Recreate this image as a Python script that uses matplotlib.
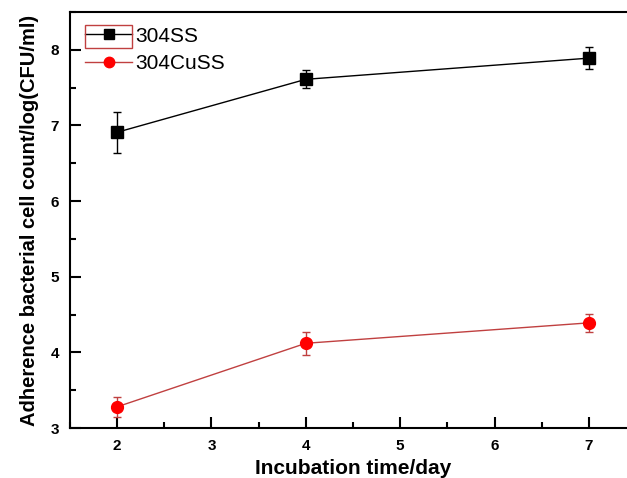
import matplotlib.pyplot as plt
from matplotlib.lines import Line2D
from matplotlib.patches import Rectangle
from matplotlib.ticker import MultipleLocator

days = [2, 4, 7]
ss = [6.91, 7.61, 7.89]
ss_err = [0.27, 0.12, 0.15]
cuss = [3.28, 4.12, 4.39]
cuss_err = [0.13, 0.15, 0.12]

plt.rcParams['font.family'] = ['Liberation Sans', 'DejaVu Sans']

fig = plt.figure(figsize=(6.27, 4.78), dpi=100)
ax = fig.add_axes([0.1116, 0.1046, 0.9028, 0.8703])

ax.errorbar(days, ss, yerr=ss_err, color='black', lw=1, marker='s', ms=8,
            capsize=3, elinewidth=1, capthick=1)
ax.errorbar(days, cuss, yerr=cuss_err, color='#c04040', lw=1, marker='o', ms=8.5,
            mfc='red', mec='red', capsize=3, elinewidth=1, capthick=1)

ax.set_xlim(1.5, 7.5)
ax.set_ylim(3, 8.5)
ax.xaxis.set_major_locator(MultipleLocator(1))
ax.xaxis.set_minor_locator(MultipleLocator(0.5))
ax.yaxis.set_major_locator(MultipleLocator(1))
ax.yaxis.set_minor_locator(MultipleLocator(0.5))
ax.tick_params(which='both', direction='in', width=1.5)
ax.tick_params(which='major', length=8, labelsize=11, pad=8)
ax.tick_params(which='minor', length=4)
for lab in ax.get_xticklabels() + ax.get_yticklabels():
    lab.set_fontweight('bold')
for s in ax.spines.values():
    s.set_linewidth(1.5)

ax.set_xlabel('Incubation time/day', fontsize=15, fontweight='bold', labelpad=4)
ax.set_ylabel('Adherence bacterial cell count/log(CFU/ml)', fontsize=14.5,
              fontweight='bold', labelpad=8)

handles = [
    Line2D([], [], color='black', lw=1, marker='s', ms=7),
    Line2D([], [], color='#c04040', lw=1, marker='o', ms=7.5, mfc='red', mec='red'),
]
ax.legend(handles, ['304SS', '304CuSS'], loc='upper left', frameon=False,
          fontsize=15, handlelength=2.3, borderaxespad=0.3, handletextpad=0.15,
          labelspacing=0.4, borderpad=0.4)

# selection box around the first legend handle
fig.patches.append(Rectangle((85 / 627, 1 - 48 / 478), 47 / 627, 23 / 478,
                             transform=fig.transFigure, fill=False,
                             edgecolor='#c04040', lw=1))

fig.savefig('out.png', dpi=100)
